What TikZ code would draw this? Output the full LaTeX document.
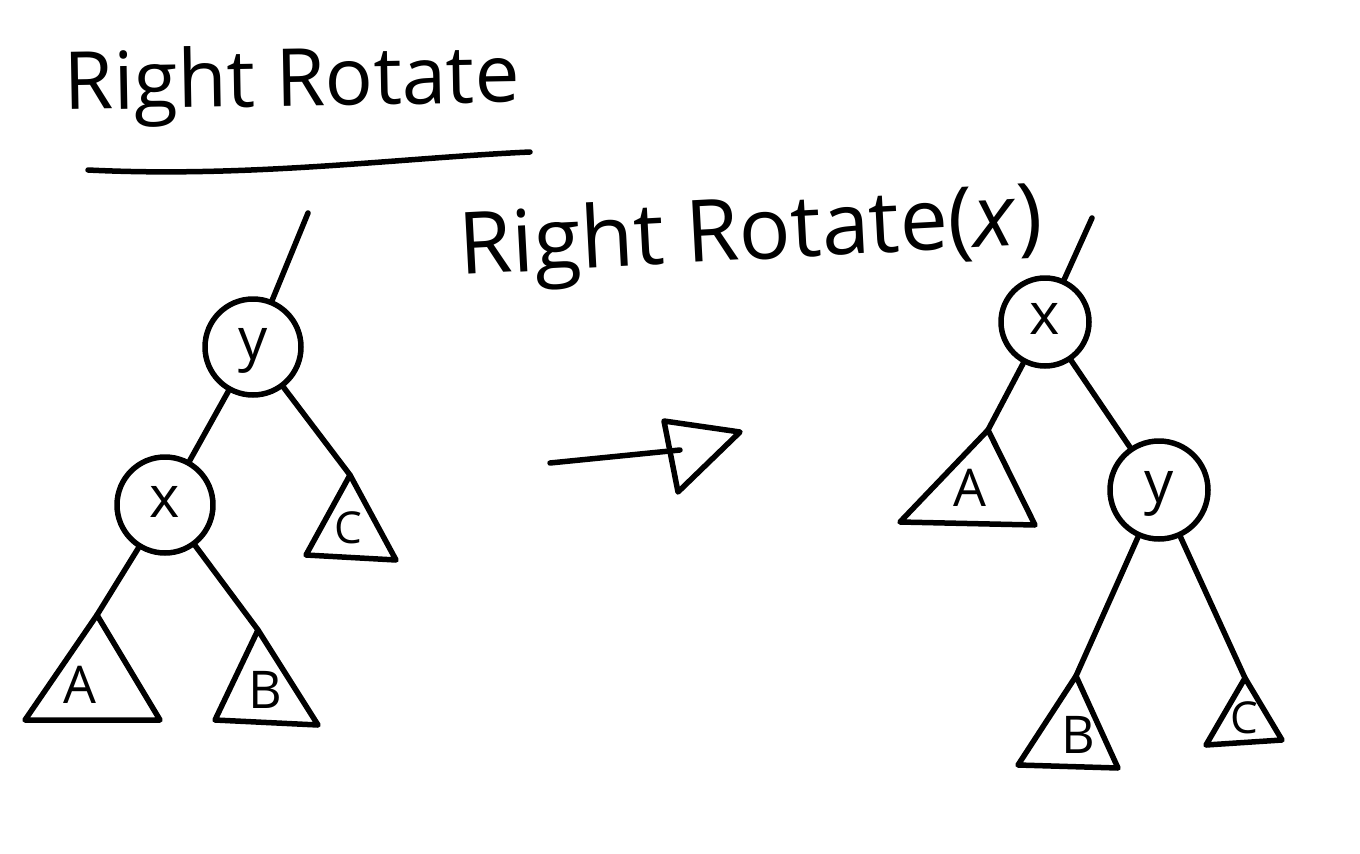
\documentclass[tikz,border=0pt]{standalone}
\usepackage{fontspec}
\setmainfont{Open Sans}
\begin{document}
\begin{tikzpicture}[x=1pt,y=-1pt,line width=5.5pt,line cap=round,line join=round,
  nd/.style={draw,circle,minimum size=96pt,inner sep=0pt,font=\fontsize{58}{60}\selectfont,text height=30pt,text depth=6pt},
  lbl/.style={font=\fontsize{52}{56}\selectfont,inner sep=0pt},
  ttl/.style={font=\fontsize{80}{90}\selectfont,inner sep=0pt,anchor=base west}]
\useasboundingbox (0,0) rectangle (1360,854);
% titles
\node[ttl,rotate=1] (title) at (62,110) {Right Rotate};
\coordinate (ulA) at (88,170);
\coordinate (ulB) at (530,152);
\draw (ulA) .. controls (250,178) and (400,158) .. (ulB);
\node[ttl,font=\fontsize{86}{90}\selectfont,rotate=3] (op) at (458,275) {Right Rotate(\textit{x})};
% left tree
\node[nd] (yL) at (253,347) {y};
\node[nd] (xL) at (165,505) {x};
\coordinate (topL) at (308,213);
\draw (topL) -- (yL);
\draw (yL) -- (xL);
% C left
\coordinate (cLa) at (350,475);
\coordinate (cLb) at (306,555);
\coordinate (cLc) at (396,560);
\draw (cLa) -- (cLb) -- (cLc) -- cycle;
\node[lbl,font=\fontsize{44}{50}\selectfont] (cL) at (348,528) {C};
\draw (yL) -- (cLa);
% A left
\coordinate (aLa) at (97,615);
\coordinate (aLb) at (25,720);
\coordinate (aLc) at (160,720);
\draw (aLa) -- (aLb) -- (aLc) -- cycle;
\node[lbl] (aL) at (80,685) {A};
\draw (xL) -- (aLa);
% B left
\coordinate (bLa) at (258,630);
\coordinate (bLb) at (215,720);
\coordinate (bLc) at (318,725);
\draw (bLa) -- (bLb) -- (bLc) -- cycle;
\node[lbl] (bL) at (265,690) {B};
\draw (xL) -- (bLa);
% arrow
\coordinate (arS) at (550,463);
\coordinate (arT) at (680,450);
\coordinate (h1) at (664,421);
\coordinate (h2) at (678,492);
\coordinate (h3) at (740,432);
\draw (arS) -- (arT);
\draw (h1) -- (h2) -- (h3) -- cycle;
% right tree
\node[nd,minimum size=88pt] (xR) at (1045,322) {x};
\node[nd,minimum size=98pt] (yR) at (1159,490) {y};
\coordinate (topR) at (1092,218);
\draw (topR) -- (xR);
\draw (xR) -- (yR);
% A right
\coordinate (aRa) at (988,430);
\coordinate (aRb) at (900,522);
\coordinate (aRc) at (1035,525);
\draw (aRa) -- (aRb) -- (aRc) -- cycle;
\node[lbl] (aR) at (970,488) {A};
\draw (xR) -- (aRa);
% B right
\coordinate (bRa) at (1076,676);
\coordinate (bRb) at (1018,765);
\coordinate (bRc) at (1118,768);
\draw (bRa) -- (bRb) -- (bRc) -- cycle;
\node[lbl] (bR) at (1078,735) {B};
\draw (yR) -- (bRa);
% C right
\coordinate (cRa) at (1245,678);
\coordinate (cRb) at (1206,745);
\coordinate (cRc) at (1282,740);
\draw (cRa) -- (cRb) -- (cRc) -- cycle;
\node[lbl,font=\fontsize{44}{50}\selectfont] (cR) at (1244,718) {C};
\draw (yR) -- (cRa);
\end{tikzpicture}
\end{document}
